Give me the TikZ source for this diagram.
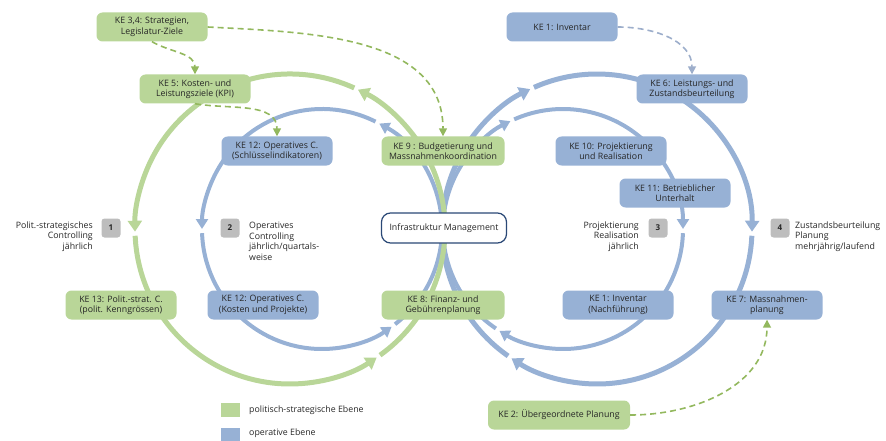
\documentclass[tikz,border=0pt]{standalone}
\usepackage{fontspec}
\setmainfont{Open Sans}
\usetikzlibrary{arrows.meta}
\definecolor{pol}{HTML}{B9D698}
\definecolor{ope}{HTML}{97B1D5}
\definecolor{dpol}{HTML}{93B85E}
\definecolor{dope}{HTML}{9DAECB}
\definecolor{nr}{HTML}{BDBDBD}
\definecolor{im}{HTML}{2A4876}
\definecolor{txt}{HTML}{262626}
\tikzset{ke/.style={text=txt,rectangle,rounded corners=6pt,minimum width=111pt,minimum height=29pt,inner sep=2pt,align=center,font=\fontsize{8.8}{10.5}\selectfont}}
\tikzset{pol/.style={ke,fill=pol}}
\tikzset{ope/.style={ke,fill=ope}}
\tikzset{im/.style={ke,fill=white,draw=im,line width=1.2pt,minimum width=125pt,minimum height=30pt,rounded corners=9pt}}
\tikzset{nr/.style={fill=nr,rounded corners=3pt,minimum size=19pt,inner sep=0pt,text=txt,font=\fontsize{8}{9}\bfseries}}
\tikzset{lbl/.style={text=txt,inner sep=0pt,font=\fontsize{8.8}{10.5}\selectfont}}
\tikzset{leg/.style={minimum width=19pt,minimum height=14pt,inner sep=0pt}}
\tikzset{outer/.style={draw=#1,line width=5pt,-{Triangle[width=14pt,length=11pt]}}}
\tikzset{inner/.style={draw=#1,line width=4pt,-{Triangle[width=12pt,length=10pt]}}}
\tikzset{dpol/.style={draw=dpol,line width=1.6pt,dash pattern=on 6pt off 4pt,-{Triangle[width=8pt,length=8pt]}}}
\tikzset{dope/.style={draw=dope,line width=1.6pt,dash pattern=on 6pt off 4pt,-{Triangle[width=8pt,length=8pt]}}}

\begin{document}
\begin{tikzpicture}[x=1pt,y=1pt]
        \useasboundingbox (0,0) rectangle (886,440);
        \coordinate (gc) at (290,211);
        \coordinate (blc) at (322,211);
        \coordinate (brc) at (597,211);
        \coordinate (bric) at (563,211);

        \foreach \a/\b in {235/115.5,114/-1,-2.5/-123.5}
            \draw[outer=ope] ([shift={(brc)}]\a:155) arc[start angle=\a,end angle=\b,radius=155];
        \foreach \a/\b in {236/116,114/0,-2/-122}
            \draw[inner=ope] ([shift={(bric)}]\a:120) arc[start angle=\a,end angle=\b,radius=120];
        \foreach \a/\b in {307.5/421.5,63.5/180,182/305.5}
            \draw[inner=ope] ([shift={(blc)}]\a:120) arc[start angle=\a,end angle=\b,radius=120];
        \foreach \a/\b in {305.5/424,65.5/181,182.5/304}
            \draw[outer=pol] ([shift={(gc)}]\a:155) arc[start angle=\a,end angle=\b,radius=155];

        \node[pol] (ke34) at (152,413) {KE 3,4: Strategien,\\Legislatur-Ziele};
        \node[pol] (ke5) at (195,351) {KE 5: Kosten- und\\Leistungsziele (KPI)};
        \node[ope] (ke12a) at (277,289) {KE 12: Operatives C.\\(Schlüsselindikatoren)};
        \node[pol,minimum width=123pt] (ke9) at (443,289) {KE 9 : Budgetierung und\\Massnahmenkoordination};
        \node[im] (im) at (444,212) {Infrastruktur Management};
        \node[pol,minimum width=123pt] (ke8) at (443,135) {KE 8: Finanz- und\\Gebührenplanung};
        \node[pol] (ke13) at (121,135) {KE 13: Polit.-strat. C.\\(polit. Kenngrössen)};
        \node[ope] (ke12b) at (263,135) {KE 12: Operatives C.\\(Kosten und Projekte)};
        \node[ope] (ke1a) at (562,413) {KE 1: Inventar};
        \node[ope] (ke6) at (692,351) {KE 6: Leistungs- und\\Zustandsbeurteilung};
        \node[ope] (ke10) at (611,289) {KE 10: Projektierung\\und Realisation};
        \node[ope] (ke11) at (675,247) {KE 11: Betrieblicher\\Unterhalt};
        \node[ope] (ke1b) at (618,135) {KE 1: Inventar\\(Nachführung)};
        \node[ope] (ke7) at (767,135) {KE 7: Massnahmen-\\planung};
        \node[pol,minimum width=142pt] (ke2) at (559,25) {KE 2: Übergeordnete Planung};

        \foreach \n/\x in {1/111,2/230,3/658,4/780}
            \node[nr] (nr\n) at (\x,212) {\n};
        \node[lbl,anchor=east,align=right] (l1) at (93,203.5) {Polit.-strategisches\\Controlling\\jährlich};
        \node[lbl,anchor=west,align=left] (l2) at (249,198.5) {Operatives\\Controlling\\jährlich/quartals-\\weise};
        \node[lbl,anchor=east,align=right] (l3) at (639,203.5) {Projektierung\\Realisation\\jährlich};
        \node[lbl,anchor=west,align=left] (l4) at (795,203.5) {Zustandsbeurteilung\\Planung\\mehrjährig/laufend};

        \node[leg,fill=pol] (lp) at (230,30) {};
        \node[lbl,anchor=west] (lpt) at (249,30) {politisch-strategische Ebene};
        \node[leg,fill=ope] (lo) at (230,5.5) {};
        \node[lbl,anchor=west] (lot) at (249,6.5) {operative Ebene};

        \draw[dpol] (ke34.south) to[out=-30,in=90] (ke5.north);
        \draw[dpol] (ke34.east) to[out=-3,in=90] (ke9.north);
        \draw[dpol] (ke5.south) to[out=-10,in=90] (ke12a.north);
        \draw[dope] (ke1a.east) to[out=0,in=90] (ke6.north);
        \draw[dpol] (ke2.east) to[out=0,in=-90] (ke7.south);
\end{tikzpicture}
\end{document}
